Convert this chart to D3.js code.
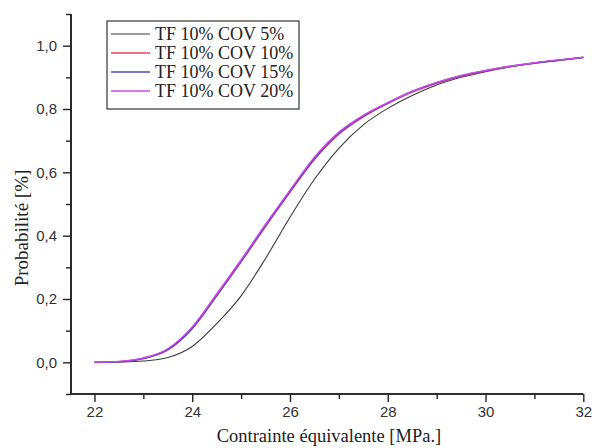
<!DOCTYPE html>
<html>
<head>
<meta charset="utf-8">
<script src="https://cdn.jsdelivr.net/npm/d3@7"></script>
<style>
  html, body { margin: 0; padding: 0; background: #fff; }
  svg { display: block; }
</style>
</head>
<body>
<svg id="chart" width="592" height="448"></svg>
<script>
// ---- data ----
const stress = [22, 22.5, 23, 23.5, 24, 24.5, 25, 25.5, 26, 26.5, 27, 27.5, 28, 28.5, 29, 29.5, 30, 30.5, 31, 31.5, 32];
const cov5  = [0, 0.001, 0.004, 0.015, 0.05, 0.122, 0.21, 0.328, 0.458, 0.578, 0.676, 0.750, 0.802, 0.843, 0.876, 0.900, 0.918, 0.933, 0.945, 0.954, 0.963];
const cov10 = [0, 0.002, 0.012, 0.039, 0.106, 0.209, 0.317, 0.429, 0.537, 0.640, 0.720, 0.775, 0.817, 0.853, 0.881, 0.903, 0.920, 0.934, 0.945, 0.954, 0.963];
const cov15 = [0, 0.002, 0.012, 0.040, 0.108, 0.212, 0.320, 0.432, 0.540, 0.644, 0.724, 0.778, 0.819, 0.855, 0.883, 0.905, 0.921, 0.935, 0.945, 0.954, 0.963];
const cov20 = [0, 0.003, 0.014, 0.043, 0.112, 0.216, 0.324, 0.436, 0.544, 0.648, 0.727, 0.780, 0.820, 0.856, 0.884, 0.906, 0.922, 0.935, 0.946, 0.955, 0.963];
const seriesNames = ["TF 10% COV 5%", "TF 10% COV 10%", "TF 10% COV 15%", "TF 10% COV 20%"];
const xTicks = [22, 24, 26, 28, 30, 32];
const xMinorTicks = [23, 25, 27, 29, 31];
const yTicks = [0, 0.2, 0.4, 0.6, 0.8, 1.0];
const yMinorTicks = [-0.1, 0.1, 0.3, 0.5, 0.7, 0.9, 1.1];
const xTitle = "Contrainte équivalente [MPa.]";
const yTitle = "Probabilité [%]";

// ---- styles ----
const colors = ["#3a3a3a", "#e8485a", "#5048c8", "#d048e8"];
const widths = [1.1, 1.4, 1.6, 1.4];

const svg = d3.select("#chart");
const x = d3.scaleLinear().domain([21.52, 32]).range([71, 583.3]);
const y = d3.scaleLinear().domain([-0.1, 1.1]).range([394, 14]);

const allSeries = [cov5, cov10, cov15, cov20];

const line = d3.line()
  .x(d => x(d[0]))
  .y(d => y(d[1]))
  .curve(d3.curveMonotoneX);

svg.append("g").selectAll("path")
  .data(allSeries)
  .join("path")
  .attr("fill", "none")
  .attr("stroke", (d, i) => colors[i])
  .attr("stroke-width", (d, i) => widths[i])
  .attr("d", vals => line(stress.map((s, k) => [s, vals[k]])));

// ---- axes ----
const axisColor = "#222";
const tickFont = "'Liberation Sans', Arial, sans-serif";

const xAxis = svg.append("g").attr("transform", "translate(0,394)")
  .call(d3.axisBottom(x).tickValues(xTicks).tickSize(8).tickPadding(4).tickFormat(d3.format("d")));
const xMinor = svg.append("g").attr("transform", "translate(0,394)")
  .call(d3.axisBottom(x).tickValues(xMinorTicks).tickSize(5).tickFormat(""));
const yAxis = svg.append("g").attr("transform", "translate(71,0)")
  .call(d3.axisLeft(y).tickValues(yTicks).tickSize(8).tickPadding(6)
    .tickFormat(d => d3.format(".1f")(d).replace(".", ",")));
const yMinor = svg.append("g").attr("transform", "translate(71,0)")
  .call(d3.axisLeft(y).tickValues(yMinorTicks).tickSize(5).tickFormat(""));

[xAxis, xMinor, yAxis, yMinor].forEach(g => {
  g.select(".domain").attr("stroke", axisColor).attr("stroke-width", 1.6);
  g.selectAll(".tick line").attr("stroke", axisColor).attr("stroke-width", 1.4);
  g.selectAll(".tick text")
    .attr("fill", "#333")
    .style("font-family", tickFont)
    .style("font-size", "15px");
});
[xAxis, xMinor].forEach(g => g.select(".domain").attr("d", `M${x.range()[0]},0H${x.range()[1]}`));
[yAxis, yMinor].forEach(g => g.select(".domain").attr("d", `M0,${y.range()[0]}V${y.range()[1]}`));

// ---- titles ----
const titleFont = "'Liberation Serif', 'Times New Roman', serif";
svg.append("text")
  .attr("x", 329).attr("y", 442)
  .attr("text-anchor", "middle")
  .style("font-family", titleFont).style("font-size", "18.5px").attr("fill", "#222")
  .text(xTitle);
svg.append("text")
  .attr("transform", "translate(28,228) rotate(-90)")
  .attr("text-anchor", "middle")
  .style("font-family", titleFont).style("font-size", "19px").attr("fill", "#222")
  .text(yTitle);

// ---- legend ----
const lg = svg.append("g");
lg.append("rect")
  .attr("x", 107).attr("y", 21).attr("width", 192).attr("height", 88)
  .attr("fill", "#fff").attr("stroke", "#444").attr("stroke-width", 1.3);
const legendY = d3.scalePoint().domain(seriesNames).range([34, 91]);
seriesNames.forEach((name, i) => {
  const yy = legendY(name);
  lg.append("line")
    .attr("x1", 111).attr("x2", 150).attr("y1", yy).attr("y2", yy)
    .attr("stroke", colors[i]).attr("stroke-width", widths[i]);
  lg.append("text")
    .attr("x", 155).attr("y", yy + 6)
    .style("font-family", titleFont).style("font-size", "18px").attr("fill", "#222")
    .text(name);
});
</script>
</body>
</html>
